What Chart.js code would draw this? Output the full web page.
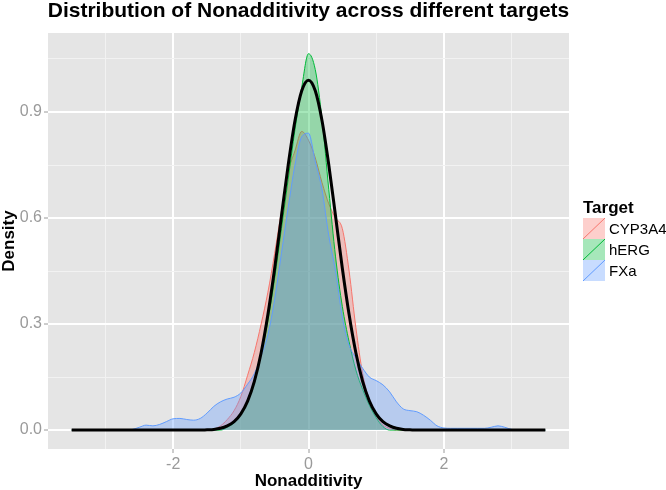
<!DOCTYPE html>
<html>
<head>
<meta charset="utf-8">
<title>Distribution of Nonadditivity across different targets</title>
<script src="https://cdn.jsdelivr.net/npm/chart.js@4.4.1/dist/chart.umd.min.js"></script>
<style>
  html, body { margin: 0; padding: 0; background: #fff; }
  #wrap { width: 666px; height: 490px; }
</style>
</head>
<body>
<div id="wrap"><canvas id="chart" width="666" height="490"></canvas></div>
<script>
/* ================================================================
   Data
   ================================================================ */
const NA_X = [
  -3.5, -2.7, -2.6, -2.5, -2.4, -2.3, -2.2, -2.1, -2.0, -1.9,
  -1.8, -1.7, -1.6, -1.5, -1.4, -1.3, -1.2, -1.1, -1.0, -0.9,
  -0.8, -0.7, -0.6, -0.5, -0.4, -0.3, -0.2, -0.1, 0.0, 0.1,
  0.2, 0.3, 0.4, 0.5, 0.6, 0.7, 0.8, 0.9, 1.0, 1.1,
  1.2, 1.3, 1.4, 1.5, 1.6, 1.7, 1.8, 1.9, 2.0, 2.1,
  2.2, 2.3, 2.4, 2.5, 2.6, 2.7, 2.8, 2.9, 3.0, 3.1, 3.5
];

const CYP3A4 = [
  0, 0, 0, 0, 0, 0, 0, 0, 0, 0,
  0, 0, 0, 0, 0.003, 0.012, 0.03, 0.055, 0.095, 0.155,
  0.22, 0.30, 0.39, 0.50, 0.62, 0.73, 0.79, 0.845, 0.82, 0.77,
  0.70, 0.64, 0.60, 0.57, 0.45, 0.29, 0.16, 0.085, 0.04, 0.015,
  0.005, 0, 0, 0, 0, 0, 0, 0, 0, 0,
  0, 0, 0, 0, 0, 0, 0, 0, 0, 0, 0
];

const HERG = [
  0, 0, 0, 0, 0, 0, 0, 0, 0, 0,
  0, 0, 0, 0, 0, 0, 0.008, 0.02, 0.045, 0.085,
  0.14, 0.215, 0.31, 0.43, 0.57, 0.71, 0.85, 0.97, 1.065, 1.02,
  0.88, 0.68, 0.49, 0.35, 0.25, 0.17, 0.115, 0.07, 0.035, 0.01,
  0, 0, 0, 0, 0, 0, 0, 0, 0, 0,
  0, 0, 0, 0, 0, 0, 0, 0, 0, 0, 0
];

const FXA = [
  0, 0, 0.002, 0.008, 0.014, 0.012, 0.016, 0.024, 0.032, 0.033,
  0.030, 0.028, 0.033, 0.048, 0.067, 0.080, 0.088, 0.093, 0.105, 0.13,
  0.16, 0.21, 0.27, 0.37, 0.50, 0.63, 0.75, 0.83, 0.84, 0.76,
  0.68, 0.55, 0.45, 0.32, 0.24, 0.205, 0.175, 0.15, 0.14, 0.128,
  0.108, 0.08, 0.06, 0.055, 0.052, 0.042, 0.028, 0.012, 0.006, 0.005,
  0.005, 0.005, 0.005, 0.005, 0.005, 0.008, 0.012, 0.008, 0.002, 0, 0
];

// overall fitted curve (black)
const OVERALL = [
  0, 0, 0, 0, 0, 0, 0, 0, 0, 0,
  0, 0, 0, 0.001, 0.002, 0.005, 0.012, 0.024, 0.046, 0.082,
  0.138, 0.219, 0.327, 0.458, 0.605, 0.75, 0.875, 0.96, 0.99, 0.96,
  0.875, 0.75, 0.605, 0.458, 0.327, 0.219, 0.138, 0.082, 0.046, 0.024,
  0.012, 0.005, 0.002, 0.001, 0, 0, 0, 0, 0, 0,
  0, 0, 0, 0, 0, 0, 0, 0, 0, 0, 0
];

const TARGETS = ['CYP3A4', 'hERG', 'FXa'];
const TARGET_COLORS = ['#F8766D', '#00BA38', '#619CFF'];

const X_MAJOR  = [-2, 0, 2];
const X_LABELS = ['-2', '0', '2'];
const X_MINOR  = [-3, -1, 1, 3];
const Y_MAJOR  = [0, 0.3, 0.6, 0.9];
const Y_LABELS = ['0.0', '0.3', '0.6', '0.9'];
const Y_MINOR  = [0.15, 0.45, 0.75, 1.05];

const TITLE   = 'Distribution of Nonadditivity across different targets';
const X_TITLE = 'Nonadditivity';
const Y_TITLE = 'Density';
const LEGEND_TITLE = 'Target';
/* ================================================================ */

const FONT = '"Liberation Sans", Arial, sans-serif';
const FILL_ALPHA = 0.35;

function withAlpha(hex, a) {
  const n = parseInt(hex.slice(1), 16);
  return `rgba(${(n >> 16) & 255},${(n >> 8) & 255},${n & 255},${a})`;
}

function points(ys) {
  return NA_X.map((x, i) => ({ x, y: ys[i] }));
}

// ── ggplot-ish axes: major/minor grid from the tick lists ─────────
function axisOptions(major, labels, minor, min, max, fit) {
  const isMajor = v => major.some(m => Math.abs(m - v) < 1e-9);
  return {
    type: 'linear',
    min, max,
    afterBuildTicks: s => {
      s.ticks = major.concat(minor).sort((a, b) => a - b).map(v => ({ value: v }));
    },
    afterFit: fit,
    border: { display: false },
    grid: {
      color: c => (c.tick && isMajor(c.tick.value)) ? '#FFFFFF' : '#F2F2F2',
      lineWidth: c => (c.tick && isMajor(c.tick.value)) ? 2 : 1,
      tickColor: c => (c.tick && isMajor(c.tick.value)) ? '#9a9a9a' : 'rgba(0,0,0,0)',
      tickWidth: 1,
      tickLength: 4,
    },
    ticks: {
      autoSkip: false,
      maxRotation: 0,
      padding: 2,
      color: '#9a9a9a',
      font: { family: FONT, size: 16 },
      callback: v => {
        const i = major.findIndex(m => Math.abs(m - v) < 1e-9);
        return i >= 0 ? labels[i] : '';
      },
    },
  };
}

// ── background, titles and legend ─────────────────────────────────
const decorations = {
  id: 'decorations',
  beforeDraw(chart) {
    const { ctx, chartArea: a } = chart;
    ctx.save();
    ctx.fillStyle = '#FFFFFF';
    ctx.fillRect(0, 0, chart.width, chart.height);
    ctx.fillStyle = '#E5E5E5';
    ctx.fillRect(a.left, a.top, a.right - a.left, a.bottom - a.top);
    ctx.restore();
  },
  afterDraw(chart) {
    const { ctx, chartArea: a } = chart;
    const cx = (a.left + a.right) / 2;
    ctx.save();
    ctx.fillStyle = '#000';
    ctx.textBaseline = 'alphabetic';
    ctx.textAlign = 'center';

    ctx.font = `bold 21px ${FONT}`;
    ctx.fillText(TITLE, cx, 17);

    ctx.font = `bold 17px ${FONT}`;
    ctx.fillText(X_TITLE, cx, 486);

    ctx.save();
    ctx.translate(14, (a.top + a.bottom) / 2);
    ctx.rotate(-Math.PI / 2);
    ctx.fillText(Y_TITLE, 0, 0);
    ctx.restore();

    // legend
    const lx = 583, ly = 218, kw = 22, kh = 21;
    ctx.textAlign = 'left';
    ctx.font = `bold 17px ${FONT}`;
    ctx.fillText(LEGEND_TITLE, lx, ly - 5);

    ctx.font = `15px ${FONT}`;
    ctx.textBaseline = 'middle';
    TARGETS.forEach((t, i) => {
      const y = ly + i * kh;
      ctx.fillStyle = withAlpha(TARGET_COLORS[i], FILL_ALPHA);
      ctx.fillRect(lx, y, kw, kh);
      ctx.strokeStyle = TARGET_COLORS[i];
      ctx.lineWidth = 1;
      ctx.beginPath();
      ctx.moveTo(lx, y + kh);
      ctx.lineTo(lx + kw, y);
      ctx.stroke();
      ctx.fillStyle = '#000';
      ctx.fillText(t, lx + kw + 4, y + kh / 2 + 1);
    });
    ctx.restore();
  },
};

const SERIES = [CYP3A4, HERG, FXA];

const datasets = SERIES.map((ys, i) => ({
  label: TARGETS[i],
  data: points(ys),
  borderColor: TARGET_COLORS[i],
  backgroundColor: withAlpha(TARGET_COLORS[i], FILL_ALPHA),
  borderWidth: 1,
  fill: 'origin',
  order: 3 - i,
}));

datasets.push({
  label: 'All',
  data: points(OVERALL),
  borderColor: '#000000',
  borderWidth: 3,
  fill: false,
  order: 0,
});

new Chart(document.getElementById('chart'), {
  type: 'line',
  data: { datasets },
  options: {
    responsive: false,
    animation: false,
    devicePixelRatio: 1,
    layout: { padding: { top: 33, right: 97, left: 0, bottom: 0 } },
    elements: {
      point: { radius: 0 },
      line: { cubicInterpolationMode: 'monotone' },
    },
    plugins: {
      legend: { display: false },
      tooltip: { enabled: false },
    },
    scales: {
      x: axisOptions(X_MAJOR, X_LABELS, X_MINOR, -3.85, 3.85, s => { s.height = 41; }),
      y: axisOptions(Y_MAJOR, Y_LABELS, Y_MINOR, -0.0535, 1.1235, s => { s.width = 48; }),
    },
  },
  plugins: [decorations],
});
</script>
</body>
</html>
